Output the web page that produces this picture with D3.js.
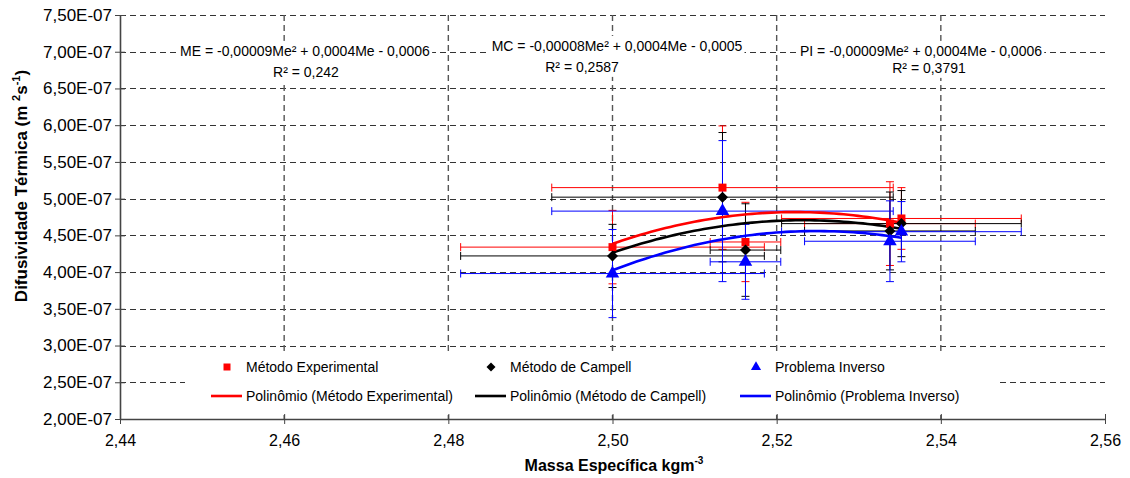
<!DOCTYPE html>
<html>
<head>
<meta charset="utf-8">
<script src="https://cdn.jsdelivr.net/npm/d3@7"></script>
<style>
  body { margin: 0; background: #fff; }
  svg { font-family: "Liberation Sans", Arial, sans-serif; }
</style>
</head>
<body>
<svg id="chart" width="1130" height="478"></svg>
<script>
// massa específica (x) e erro em x
const density = [2.500, 2.5134, 2.5162, 2.5338, 2.5352]
const densityErr = [0.0185, 0.0208, 0.0043, 0.0104, 0.0146]

// difusividade (m2/s)
const metodoExp = [4.34e-7, 5.15e-7, 4.41e-7, 4.66e-7, 4.73e-7]
const metodoExpErr = [0.50e-7, 0.84e-7, 0.54e-7, 0.57e-7, 0.42e-7]
const metodoCamp = [4.22e-7, 5.02e-7, 4.30e-7, 4.56e-7, 4.66e-7]
const metodoCampErr = [0.43e-7, 0.88e-7, 0.63e-7, 0.53e-7, 0.45e-7]
const probInv = [3.98e-7, 4.83e-7, 4.14e-7, 4.42e-7, 4.55e-7]
const probInvErr = [0.60e-7, 0.96e-7, 0.51e-7, 0.55e-7, 0.41e-7]

const xTicks = [2.44, 2.46, 2.48, 2.50, 2.52, 2.54, 2.56]
const yTicks = [2.0e-7, 2.5e-7, 3.0e-7, 3.5e-7, 4.0e-7, 4.5e-7, 5.0e-7, 5.5e-7, 6.0e-7, 6.5e-7, 7.0e-7, 7.5e-7]

const seriesNames = ['Método Experimental', 'Método de Campell', 'Problema Inverso']
const trendNames = ['Polinômio (Método Experimental)', 'Polinômio (Método de Campell)', 'Polinômio (Problema Inverso)']
const equations = [
  ['ME = -0,00009Me² + 0,0004Me - 0,0006', 'R² = 0,242'],
  ['MC = -0,00008Me² + 0,0004Me - 0,0005', 'R² = 0,2587'],
  ['PI = -0,00009Me² + 0,0004Me - 0,0006', 'R² = 0,3791']
]

const series = [
  { values: metodoExp, err: metodoExpErr, color: '#ff0000', shape: 'square' },
  { values: metodoCamp, err: metodoCampErr, color: '#000000', shape: 'diamond' },
  { values: probInv, err: probInvErr, color: '#0000ff', shape: 'triangle' }
]

const svg = d3.select('#chart')
const pLeft = 120, pRight = 1105, pTop = 15, pBottom = 419

const x = d3.scaleLinear().domain([2.44, 2.56]).range([pLeft, pRight])
const y = d3.scaleLinear().domain([2.0e-7, 7.5e-7]).range([pBottom, pTop])

const fmtY = (d) => (d / 1e-7).toFixed(2).replace('.', ',') + 'E-07'
const fmtX = (d) => d.toFixed(2).replace('.', ',')

// grid
svg.append('g')
  .selectAll('line')
  .data(yTicks.slice(1))
  .join('line')
  .attr('x1', pLeft).attr('x2', pRight)
  .attr('y1', (d) => Math.round(y(d)) + 0.5).attr('y2', (d) => Math.round(y(d)) + 0.5)
  .attr('stroke', '#333').attr('stroke-dasharray', '6,4')

svg.append('g')
  .selectAll('line')
  .data(xTicks.slice(1, -1))
  .join('line')
  .attr('x1', (d) => x(d)).attr('x2', (d) => x(d))
  .attr('y1', pTop).attr('y2', pBottom)
  .attr('stroke', '#555').attr('stroke-width', 1.4).attr('stroke-dasharray', '6,4')

// axes
const xAxis = svg.append('g')
  .attr('transform', `translate(0,${pBottom})`)
  .call(d3.axisBottom(x).tickValues(xTicks).tickFormat(fmtX).tickSize(5).tickSizeOuter(0))
xAxis.selectAll('.tick line').attr('y1', -5)
const yAxis = svg.append('g')
  .attr('transform', `translate(${pLeft},0)`)
  .call(d3.axisLeft(y).tickValues(yTicks).tickFormat(fmtY).tickSize(5).tickSizeOuter(0))
yAxis.selectAll('.tick line').attr('x1', 5)

svg.selectAll('.domain').attr('stroke', '#444').attr('stroke-width', 1.6)
svg.selectAll('.tick line').attr('stroke', '#444')
svg.selectAll('.tick text').attr('fill', '#000').attr('font-family', '"Liberation Sans", Arial, sans-serif')
xAxis.selectAll('.tick text').attr('font-size', 16).attr('dy', '1.2em')
yAxis.selectAll('.tick text').attr('font-size', 17).attr('x', -8)

// equation labels (row centres)
const eqRows = [
  [[305, 51], [306, 72]],
  [[617, 46], [582, 67]],
  [[921, 51], [929, 68]]
]
equations.forEach((lines, i) => {
  const g = svg.append('g')
  const box = g.append('rect').attr('fill', '#fff')
  const texts = lines.map((t, j) => g.append('text')
    .attr('x', eqRows[i][j][0]).attr('y', eqRows[i][j][1]).attr('dy', '0.35em')
    .attr('text-anchor', 'middle').attr('font-size', 14).text(t))
  const bb = texts.map((t) => t.node().getBBox())
  const bx0 = d3.min(bb, (b) => b.x) - 2, bx1 = d3.max(bb, (b) => b.x + b.width) + 2
  const by0 = d3.min(bb, (b) => b.y) - 2, by1 = d3.max(bb, (b) => b.y + b.height) + 2
  box.attr('x', bx0).attr('y', by0).attr('width', bx1 - bx0).attr('height', by1 - by0)
})

// error bars
const cap = 4
series.forEach((s) => {
  const g = svg.append('g').attr('stroke', s.color).attr('stroke-width', 1).attr('fill', 'none')
  s.values.forEach((v, i) => {
    const cx = x(density[i]), cy = y(v)
    const x0 = x(density[i] - densityErr[i]), x1 = x(density[i] + densityErr[i])
    const y0 = y(v + s.err[i]), y1 = y(v - s.err[i])
    g.append('path').attr('d', `M${x0},${cy}H${x1}M${x0},${cy - cap}V${cy + cap}M${x1},${cy - cap}V${cy + cap}`)
    g.append('path').attr('d', `M${cx},${y0}V${y1}M${cx - cap},${y0}H${cx + cap}M${cx - cap},${y1}H${cx + cap}`)
  })
})

// polynomial trendline (least squares, 2nd order)
function polyFit(xs, ys) {
  const S = (k) => d3.sum(xs, (xv) => xv ** k)
  const T = (k) => d3.sum(xs, (xv, i) => xv ** k * ys[i])
  const m = [[S(0), S(1), S(2), T(0)], [S(1), S(2), S(3), T(1)], [S(2), S(3), S(4), T(2)]]
  for (let c = 0; c < 3; c++) {
    for (let r = c + 1; r < 3; r++) {
      const f = m[r][c] / m[c][c]
      for (let k = c; k < 4; k++) m[r][k] -= f * m[c][k]
    }
  }
  const coef = [0, 0, 0]
  for (let r = 2; r >= 0; r--) {
    let v = m[r][3]
    for (let k = r + 1; k < 3; k++) v -= m[r][k] * coef[k]
    coef[r] = v / m[r][r]
  }
  return coef
}

const x0Fit = 2.52
const fitX = d3.range(0, 61).map((k) => d3.min(density) + (d3.max(density) - d3.min(density)) * k / 60)
series.forEach((s) => {
  const c = polyFit(density.map((d) => (d - x0Fit) * 1000), s.values.map((v) => v * 1e7))
  const pts = fitX.map((xv) => {
    const t = (xv - x0Fit) * 1000
    return [xv, (c[0] + c[1] * t + c[2] * t * t) * 1e-7]
  })
  svg.append('path')
    .attr('d', d3.line().x((d) => x(d[0])).y((d) => y(d[1]))(pts))
    .attr('fill', 'none').attr('stroke', s.color).attr('stroke-width', 2.6)
})

// markers
function marker(shape, size) {
  if (shape === 'square') return d3.symbol(d3.symbolSquare, size * size)()
  if (shape === 'diamond') return d3.symbol(d3.symbolSquare, size * size / 2)()
  return d3.symbol(d3.symbolTriangle, size * size * 0.55)()
}
series.forEach((s) => {
  svg.append('g').selectAll('path')
    .data(s.values)
    .join('path')
    .attr('d', marker(s.shape, s.shape === 'triangle' ? 12 : (s.shape === 'diamond' ? 11 : 8)))
    .attr('transform', (d, i) => `translate(${x(density[i])},${y(d)})` + (s.shape === 'diamond' ? ' rotate(45)' : ''))
    .attr('fill', s.color)
})

// legend
const legend = svg.append('g')
legend.append('rect').attr('x', 185).attr('y', 352).attr('width', 815).attr('height', 60).attr('fill', '#fff')
const legX = [227, 491, 756]
series.forEach((s, i) => {
  legend.append('path')
    .attr('d', marker(s.shape, s.shape === 'triangle' ? 9 : (s.shape === 'diamond' ? 9 : 7)))
    .attr('transform', `translate(${legX[i]},367)` + (s.shape === 'diamond' ? ' rotate(45)' : ''))
    .attr('fill', s.color)
  legend.append('text').attr('x', legX[i] + 19).attr('y', 367).attr('dy', '0.35em')
    .attr('font-size', 14).text(seriesNames[i])
  legend.append('line')
    .attr('x1', legX[i] - 16).attr('x2', legX[i] + 15).attr('y1', 396).attr('y2', 396)
    .attr('stroke', s.color).attr('stroke-width', 2.6)
  legend.append('text').attr('x', legX[i] + 19).attr('y', 396).attr('dy', '0.35em')
    .attr('font-size', 14).text(trendNames[i])
})

// axis titles
const xt = svg.append('text').attr('x', 614).attr('y', 471).attr('text-anchor', 'middle')
  .attr('font-size', 16).attr('font-weight', 'bold')
xt.append('tspan').text('Massa Específica kgm')
xt.append('tspan').attr('dy', -7).attr('font-size', 10).text('-3')

const yt = svg.append('text').attr('transform', 'translate(27,186) rotate(-90)')
  .attr('text-anchor', 'middle').attr('font-size', 17).attr('font-weight', 'bold')
yt.append('tspan').text('Difusividade Térmica (m ')
yt.append('tspan').attr('dy', -7).attr('font-size', 11).text('2')
yt.append('tspan').attr('dy', 7).text('s')
yt.append('tspan').attr('dy', -7).attr('font-size', 11).text('-1')
yt.append('tspan').attr('dy', 7).text(')')
</script>
</body>
</html>
